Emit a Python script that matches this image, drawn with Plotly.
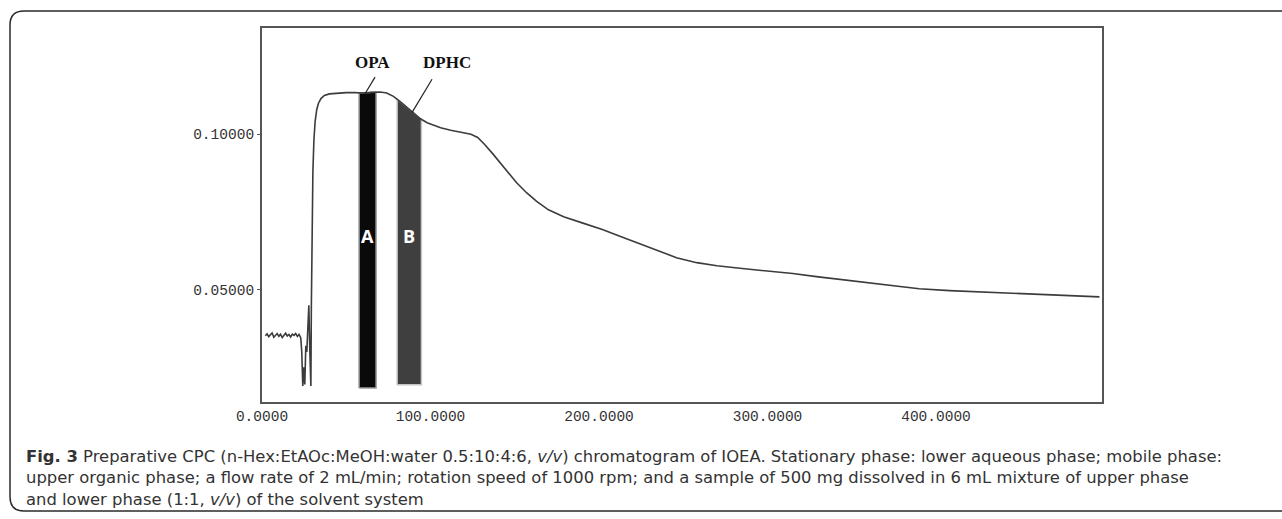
import numpy as np
import plotly.graph_objects as go

# ---------------- data ----------------
time_min = [2, 3, 4, 5, 6, 7, 8, 9, 10, 11, 12, 13, 14, 15, 16, 17, 18, 19, 20, 21, 22,
            23, 23.6, 24.2, 24.8, 25.4, 26.0, 26.6, 27.2, 27.8, 28.4, 29.0, 29.3, 29.7,
            30.2, 30.8, 31.5, 32.5, 33.5, 35, 37, 40, 45, 50, 55, 60, 65, 70, 74, 78, 82,
            86, 90, 94, 98, 102, 106, 112, 118, 124, 128, 132, 137, 142, 147, 151, 157,
            163, 170, 179, 190, 202, 212, 222, 234, 246, 258, 270, 285, 300, 315, 329,
            344, 359, 374, 390, 408, 428, 448, 470, 497]
absorbance = [0.0352, 0.0358, 0.0349, 0.0356, 0.0361, 0.0347, 0.0355, 0.0359, 0.0350,
              0.0357, 0.0346, 0.0354, 0.0360, 0.0351, 0.0356, 0.0348, 0.0357, 0.0353,
              0.0359, 0.0350, 0.0356,
              0.0345, 0.0300, 0.0190, 0.0250, 0.0195, 0.0320, 0.0300, 0.0360, 0.0450,
              0.0300, 0.0190, 0.0450, 0.0700, 0.0880, 0.0980, 0.1040, 0.1080, 0.1100,
              0.1115, 0.1125, 0.1130, 0.1133, 0.1134, 0.1134, 0.1133, 0.1135, 0.1136,
              0.1133, 0.1122, 0.1105, 0.1087, 0.1068, 0.1050, 0.1037, 0.1028, 0.1021,
              0.1013, 0.1007, 0.1000, 0.0990, 0.0968, 0.0937, 0.0903, 0.0870, 0.0845,
              0.0812, 0.0784, 0.0757, 0.0735, 0.0715, 0.0694, 0.0673, 0.0652, 0.0626,
              0.0603, 0.0587, 0.0577, 0.0568, 0.0561, 0.0552, 0.0542, 0.0532, 0.0523,
              0.0512, 0.0503, 0.0497, 0.0492, 0.0487, 0.0482, 0.0477]

# collected fractions (start, end, baseline)
fraction_labels = ["A", "B"]
fraction_names = ["OPA", "DPHC"]
fraction_start = [57.6, 80.2]
fraction_end = [67.7, 94.6]
fraction_floor = [0.0184, 0.0194]
fraction_fill = ["#0a0a0a", "#3f3f3f"]
fraction_edge = ["#9a9a9a", "#c4c4c4"]

x_tickvals = [0, 100, 200, 300, 400]
x_ticktext = ["0.0000", "100.0000", "200.0000", "300.0000", "400.0000"]
y_tickvals = [0.05, 0.10]
y_ticktext = ["0.05000", "0.10000"]

caption_lines = [
    "<b>Fig. 3</b> Preparative CPC (n-Hex:EtAOc:MeOH:water 0.5:10:4:6, <i>v/v</i>) chromatogram of IOEA. Stationary phase: lower aqueous phase; mobile phase:",
    "upper organic phase; a flow rate of 2 mL/min; rotation speed of 1000 rpm; and a sample of 500 mg dissolved in 6 mL mixture of upper phase",
    "and lower phase (1:1, <i>v/v</i>) of the solvent system",
]

# ---------------- figure ----------------
W, H = 1282, 519
L, R, T, B = 262, 1102, 28, 402
fig = go.Figure()

t_arr = np.array(time_min)
a_arr = np.array(absorbance)

for i in range(len(fraction_labels)):
    xs = np.linspace(fraction_start[i], fraction_end[i], 12)
    top = np.interp(xs, t_arr, a_arr)
    px = [fraction_start[i]] + list(xs) + [fraction_end[i], fraction_start[i]]
    py = [fraction_floor[i]] + list(top) + [fraction_floor[i], fraction_floor[i]]
    fig.add_trace(go.Scatter(x=px, y=py, mode="lines", fill="toself",
                             fillcolor=fraction_fill[i],
                             line=dict(color=fraction_edge[i], width=1.5),
                             hoverinfo="skip", showlegend=False))
    fig.add_annotation(x=(fraction_start[i] + fraction_end[i]) / 2, y=0.0674,
                       text="<b>%s</b>" % fraction_labels[i], showarrow=False,
                       font=dict(family="Open Sans", size=18, color="white"))

fig.add_trace(go.Scatter(x=time_min, y=absorbance, mode="lines",
                         line=dict(color="#3c3c3c", width=1.6),
                         showlegend=False))

# peak name pointers
name_pos = [(65.3, 0.1232), (109.8, 0.1232)]
ptr_from = [(67.1, 0.1184), (100.9, 0.1177)]
ptr_to_x = [61.1, 89.0]
for i in range(2):
    fig.add_annotation(x=name_pos[i][0], y=name_pos[i][1],
                       text="<b>%s</b>" % fraction_names[i], showarrow=False,
                       font=dict(family="Liberation Serif", size=17, color="#111"))
    tx = ptr_to_x[i]
    ty = float(np.interp(tx, t_arr, a_arr)) - 0.0003
    fig.add_shape(type="line", x0=ptr_from[i][0], y0=ptr_from[i][1], x1=tx, y1=ty,
                  line=dict(color="#222", width=1.2))

# caption
def paper_x(px):
    return (px - L) / (R - L)

def paper_y(py):
    return (B - py) / (B - T)

fig.add_annotation(xref="paper", yref="paper", x=paper_x(24), y=paper_y(478),
                   xanchor="left", yanchor="middle", align="left",
                   text="<br>".join(caption_lines), showarrow=False,
                   font=dict(family="DejaVu Sans", size=16.4, color="#333"))

# outer rounded frame
x0, x1 = paper_x(10), paper_x(1300)
y0, y1 = paper_y(511), paper_y(11)
rx, ry = 14 / (R - L), 14 / (B - T)
path = (f"M {x0},{y1 - ry} Q {x0},{y1} {x0 + rx},{y1} L {x1},{y1} "
        f"M {x0},{y1 - ry} L {x0},{y0 + ry} Q {x0},{y0} {x0 + rx},{y0} L {x1},{y0}")
fig.add_shape(type="path", xref="paper", yref="paper", path=path,
              line=dict(color="#2a2a2a", width=1.5))

tick_font = dict(family="Liberation Mono", size=14.5, color="#333")
fig.update_xaxes(range=[0, 498.5], tickvals=x_tickvals, ticktext=x_ticktext,
                 showgrid=False, zeroline=False, showline=True, mirror=True,
                 linecolor="#555", linewidth=2, ticks="", tickfont=tick_font)
fig.update_yaxes(range=[0.01387, 0.1342], tickvals=y_tickvals, ticktext=y_ticktext,
                 showgrid=False, zeroline=False, showline=True, mirror=True,
                 linecolor="#555", linewidth=2, ticks="outside", ticklen=3,
                 tickcolor="#555", tickfont=tick_font)

fig.update_layout(width=W, height=H, margin=dict(l=L, r=W - R, t=T, b=H - B),
                  plot_bgcolor="white", paper_bgcolor="white", showlegend=False)

fig.write_html("out.html")
